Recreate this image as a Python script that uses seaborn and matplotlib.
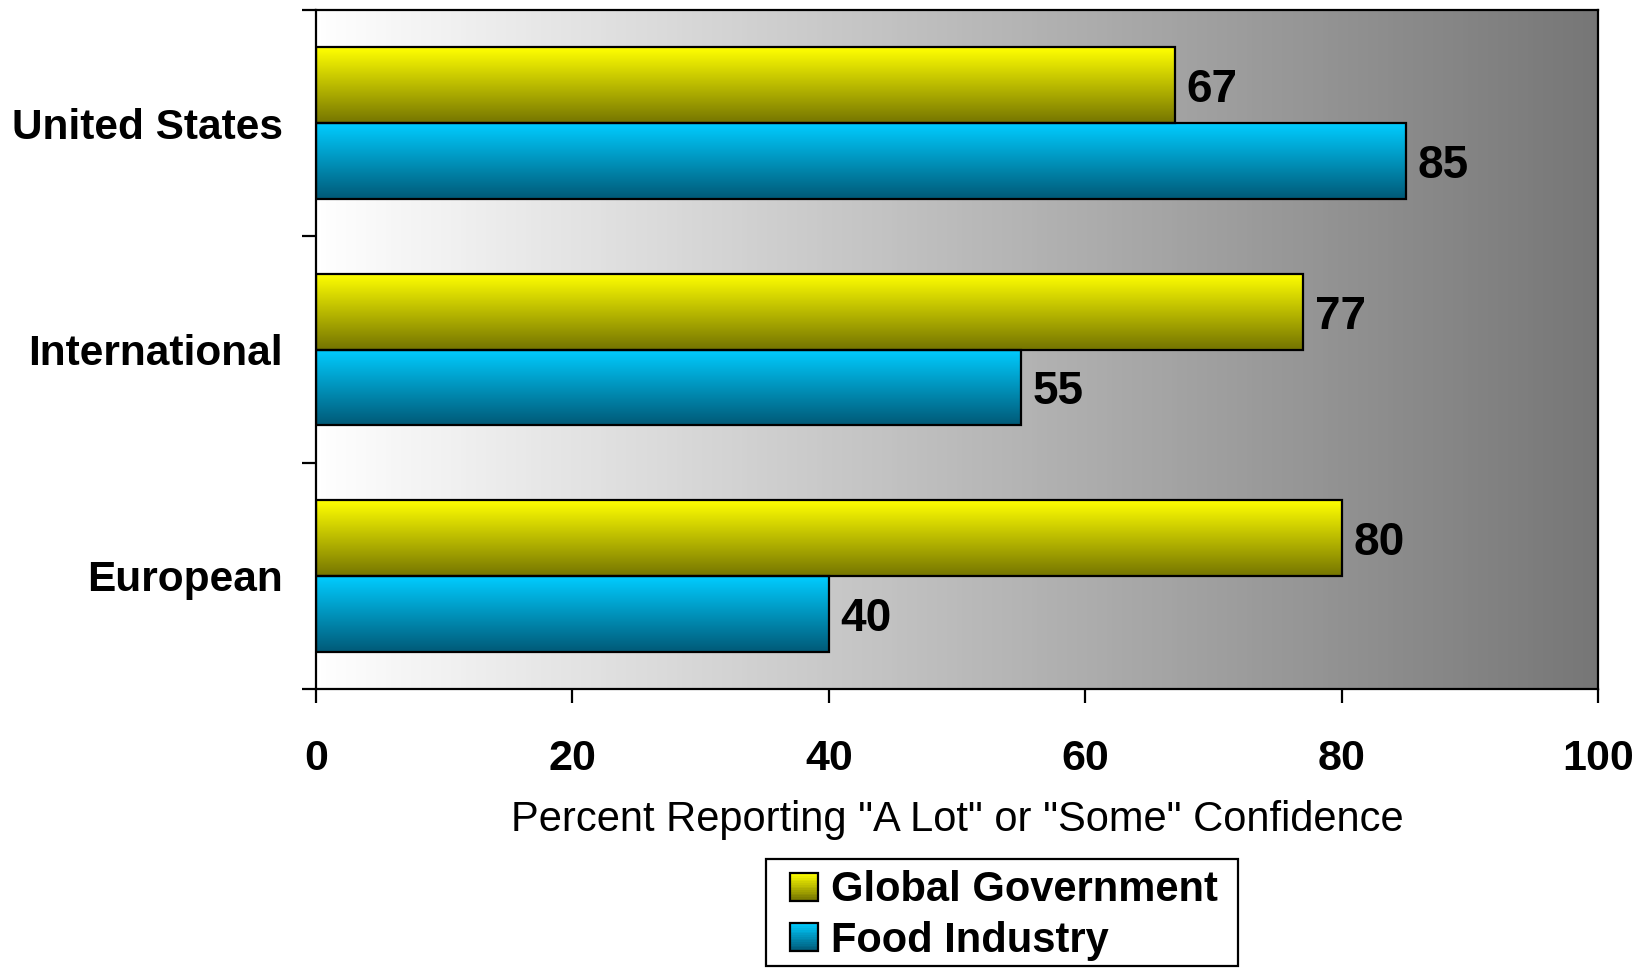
import numpy as np
import pandas as pd
import seaborn as sns
import matplotlib.pyplot as plt
from matplotlib.patches import Rectangle
from matplotlib.legend_handler import HandlerBase
from matplotlib.colors import to_rgb

# data
regions = ["United States", "International", "European"]
series = ["Global Government", "Food Industry"]
global_gov = [67, 77, 80]
food_industry = [85, 55, 40]
x_ticks = [0, 20, 40, 60, 80, 100]

# gradient ends (top, bottom) for each series
grad = {
    "Global Government": ("#FFFF00", "#767600"),
    "Food Industry": ("#00CCFF", "#005A78"),
}

df = pd.DataFrame({
    "region": regions * 2,
    "series": [series[0]] * 3 + [series[1]] * 3,
    "value": global_gov + food_industry,
})

sns.set_style("white")
plt.rcParams["font.family"] = ["Liberation Sans", "DejaVu Sans"]
plt.rcParams.update({"text.color": "black", "axes.labelcolor": "black",
                     "xtick.color": "black", "ytick.color": "black"})

W, H = 1652, 973


def vgrad(top, bottom, n=64):
    t = np.linspace(0, 1, n)[:, None]
    a, b = np.array(to_rgb(top)), np.array(to_rgb(bottom))
    return (a * (1 - t) + b * t)[:, None, :]


fig = plt.figure(figsize=(W / 100, H / 100), dpi=100)
ax = fig.add_axes([316 / W, 1 - 689 / H, (1598 - 316) / W, (689 - 10) / H])

sns.barplot(data=df, y="region", x="value", hue="series", order=regions,
            hue_order=series, orient="h", width=0.67, legend=False,
            palette=[grad[s][0] for s in series], edgecolor="black",
            linewidth=1.6, saturation=1, ax=ax, zorder=3)

ax.set_xlim(0, 100)
ax.set_ylim(2.5, -0.5)

# background: horizontal white -> grey
bg = np.linspace(1.0, 0.465, 256)
bg_img = np.dstack([bg, bg, bg]).reshape(1, 256, 3)
ax.imshow(bg_img, extent=(0, 100, 2.5, -0.5), aspect="auto", zorder=0)

# bars: vertical gradient, labels at the bar end
for cont, name in zip(ax.containers, series):
    top, bottom = grad[name]
    for bar in cont:
        x0, y0 = bar.get_x(), bar.get_y()
        w, h = bar.get_width(), bar.get_height()
        bar.set_facecolor("none")
        ax.imshow(vgrad(top, bottom), extent=(x0, x0 + w, y0 + h, y0),
                  aspect="auto", zorder=2)
        ax.text(x0 + w + 0.9, y0 + h / 2, f"{w:.0f}", va="center_baseline",
                ha="left", fontsize=33, fontweight="bold", zorder=4)

ax.set_xlim(0, 100)
ax.set_ylim(2.5, -0.5)

ax.set_xticks(x_ticks)
ax.set_xticklabels([str(t) for t in x_ticks], fontsize=31, fontweight="bold")
ax.set_yticks(range(3))
ax.set_yticklabels(regions, fontsize=30.5, fontweight="bold")
ax.set_yticks([-0.5, 0.5, 1.5, 2.5], minor=True)
ax.tick_params(axis="y", which="major", length=0, pad=24)
ax.tick_params(axis="y", which="minor", length=10, width=1.6, direction="out", left=True)
ax.tick_params(axis="x", length=10, width=1.6, direction="out", bottom=True, pad=26)
ax.set_ylabel("")
ax.set_xlabel('Percent Reporting "A Lot" or "Some" Confidence', fontsize=30,
              labelpad=15)
for sp in ax.spines.values():
    sp.set_visible(True)
    sp.set_color("black")
    sp.set_linewidth(1.6)


class GradHandler(HandlerBase):
    def __init__(self, top, bottom):
        super().__init__()
        self.top, self.bottom = top, bottom

    def create_artists(self, legend, orig_handle, xdescent, ydescent,
                       width, height, fontsize, trans):
        # square sits at the right end of the handle box
        n = 16
        side = height
        x = -xdescent + width - side
        a, b = np.array(to_rgb(self.top)), np.array(to_rgb(self.bottom))
        arts = []
        for i in range(n):
            t = i / (n - 1)
            c = b * (1 - t) + a * t
            arts.append(Rectangle((x, -ydescent + i * side / n),
                                  side, side / n + 0.3, facecolor=c,
                                  edgecolor="none", transform=trans))
        arts.append(Rectangle((x, -ydescent), side, side,
                              facecolor="none", edgecolor="black", lw=1.6,
                              transform=trans))
        return arts


handles = [Rectangle((0, 0), 1, 1) for _ in series]
leg = fig.legend(handles, series, loc="upper left",
                 bbox_to_anchor=(766 / W, 1 - 862 / H),
                 handler_map={h: GradHandler(*grad[s]) for h, s in zip(handles, series)},
                 prop={"size": 30, "weight": "bold"}, frameon=False,
                 borderaxespad=0, handlelength=1.05, handleheight=0.65,
                 handletextpad=0.3, labelspacing=0.245, borderpad=0.2)

# legend box drawn separately so its right margin matches the reference
fig.add_artist(Rectangle((766 / W, 1 - 966 / H), (1238 - 766) / W, (966 - 859) / H,
                         transform=fig.transFigure, facecolor="none",
                         edgecolor="black", lw=1.6))

fig.savefig("out.png", dpi=100)
